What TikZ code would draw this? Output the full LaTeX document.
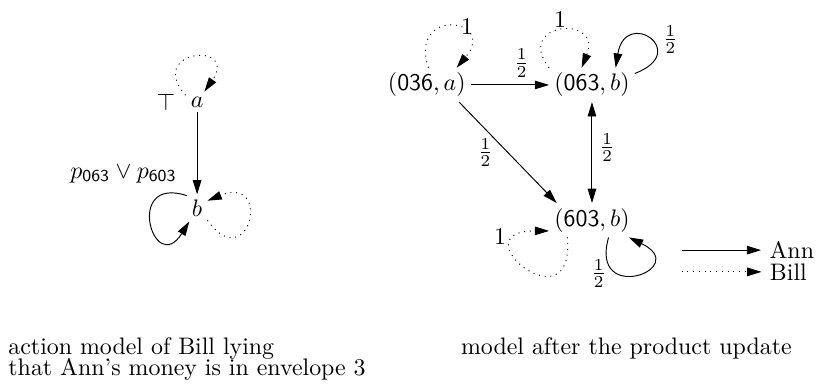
\documentclass[tikz,border=0pt]{standalone}
\usepackage{tikz}
\usetikzlibrary{arrows.meta,automata,positioning}

\begin{document}
\begin{tikzpicture}[->,>={Triangle[length=6pt,width=3.6pt]},auto,thin]
\tikzstyle{every state}=[draw=none,fill=none,shape=rectangle,minimum size=0pt,inner sep=2pt,text=black]
\tikzstyle{wt}=[inner sep=1pt]

\useasboundingbox (-2.9,1.5) rectangle (9.18,-4.22);

% action model
\node[state]        (a)                                      {$a$};
\node               (t) [left of=a,node distance=0.46cm]     {$\top$};
\node[state]        (b) [below of=a,node distance=1.56cm]    {$b$};

% product model
\node[state]        (A) [right of=a,node distance=3.38cm,yshift=0.25cm] {$(\mathsf{036},a)$};
\node[state]        (B) [right of=A,node distance=2.43cm]    {$(\mathsf{063},b)$};
\node[state]        (C) [below of=B,node distance=1.99cm]    {$(\mathsf{603},b)$};

% legend
\node[coordinate]   (P) [right of=C,node distance=1.32cm,yshift=-0.44cm] {};
\node               (Q) [right of=P,node distance=1.62cm]    {Ann};
\node[coordinate]   (R) [below of=P,node distance=0.32cm]    {};
\node               (S) [right of=R,node distance=1.57cm]    {Bill};

% captions
\node[anchor=north west,align=left] (L) at (-2.9,-3.34) {action model of Bill lying\\[-3pt]that Ann's money is in envelope 3};
\node[anchor=north west]            (M) at (3.76,-3.34) {model after the product update};

\path
(a) edge node[left=5pt,pos=0.75] {$p_{\mathsf{063}}\vee p_{\mathsf{603}}$} (b)
(a.150) edge[dotted,out=131,in=55,min distance=0.9cm] (a.55)
(b.130) edge[out=162,in=238,min distance=0.98cm] (b.240)
(b.-50) edge[dotted,out=-54,in=22,min distance=1.04cm] (b.35)
(A) edge node[wt,above=2pt,pos=0.65] {$\frac{1}{2}$} (B)
(A.-28) edge node[wt,left=5pt] {$\frac{1}{2}$} (C.154)
(B) edge[<->] node[wt,right=2pt,pos=0.45] {$\frac{1}{2}$} (C)
(A.85) edge[dotted,out=108,in=50,min distance=0.95cm] node[wt,pos=0.4,right=7pt] {$1$} (A.30)
(B.north west) edge[dotted,out=128,in=68,min distance=0.85cm] node[wt,above] {$1$} (B.121)
(B.15) edge[out=21,in=81,min distance=0.9cm] node[wt,right=4pt] {$\frac{1}{2}$} (B.36)
(C.215) edge[dotted,out=275,in=180,min distance=1.35cm] node[wt,pos=0.85,left=5pt] {$1$} (C.194)
(C.-46) edge[out=254,in=334,min distance=1.05cm] node[wt,pos=0.3,left=3pt] {$\frac{1}{2}$} (C.-25)
(P) edge (Q)
(R) edge[dotted] (S)
;
\end{tikzpicture}
\end{document}
